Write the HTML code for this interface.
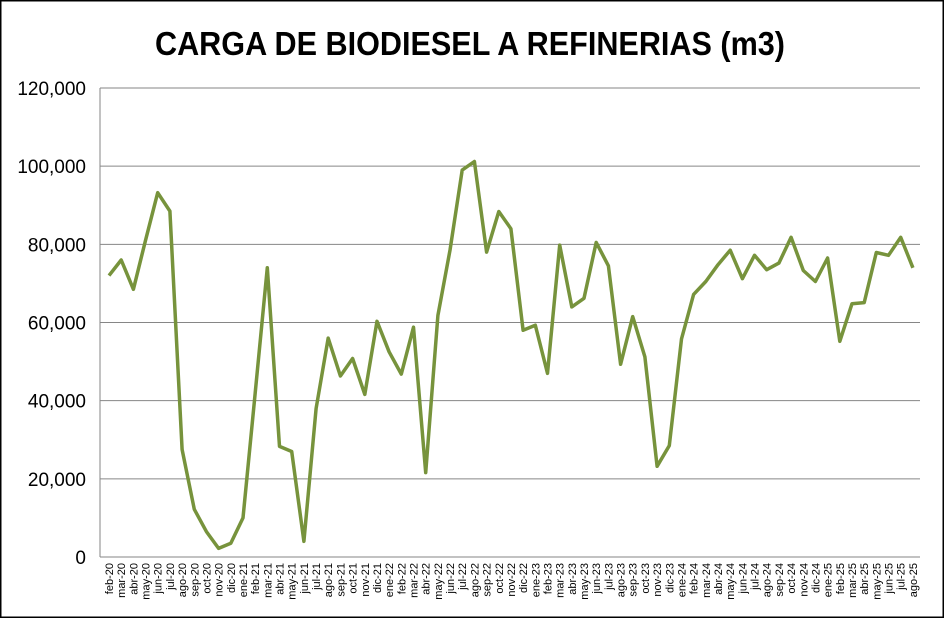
<!DOCTYPE html>
<html><head><meta charset="utf-8"><style>
html,body{margin:0;padding:0;background:#fff}
svg{display:block}
</style></head><body>
<svg id="c" width="944" height="618" xmlns="http://www.w3.org/2000/svg" font-family="Liberation Sans, sans-serif">
<rect x="0.75" y="0.75" width="942.5" height="616.5" fill="#fff" stroke="#000" stroke-width="1.5"/>
<text x="470" y="55" text-anchor="middle" font-size="33" font-weight="bold" fill="#000" textLength="630" lengthAdjust="spacingAndGlyphs">CARGA DE BIODIESEL A REFINERIAS (m3)</text>
<g id="g"></g>
</svg>
<script>
var vals=[72000,76000,68500,81000,93200,88500,27500,12200,6500,2200,3500,
10000,42000,74000,28300,27000,4000,38000,56000,46300,50800,41600,60300,
52500,46800,58800,21600,61800,78500,99000,101200,78000,88400,84000,58000,
59300,47000,79800,64000,66200,80500,74500,49300,61500,51200,23200,28500,
55800,67200,70500,74800,78500,71200,77200,73500,75200,81800,73300,70500,
76500,55200,64800,65100,77900,77200,81800,74000];
var mn=["ene","feb","mar","abr","may","jun","jul","ago","sep","oct","nov","dic"];
var L=100,R=920,T=88,B=557;
function y(v){return B-(v/120000)*(B-T);}
function x(i){return 109+i*12.18;}
var s="";
for(var k=0;k<=6;k++){var yy=y(k*20000);
 if(k>0)s+='<line x1="'+L+'" x2="'+R+'" y1="'+yy+'" y2="'+yy+'" stroke="#868686" stroke-width="1"/>';
 s+='<text x="86" y="'+(yy+7)+'" text-anchor="end" font-size="19">'+(k==0?"0":(k*20)+",000")+'</text>';}
s+='<line x1="'+L+'" x2="'+L+'" y1="'+T+'" y2="'+B+'" stroke="#868686"/>';
s+='<line x1="'+L+'" x2="'+R+'" y1="'+B+'" y2="'+B+'" stroke="#868686"/>';
var p=[];
for(var i=0;i<vals.length;i++){
 var m=(1+i)%12, yr=20+Math.floor((1+i)/12);
 var xx=x(i);
 s+='<text transform="translate('+(xx+4)+',563) rotate(-90)" text-anchor="end" font-size="11">'+mn[m]+'-'+yr+'</text>';
 p.push(xx.toFixed(1)+','+y(vals[i]).toFixed(1));}
s+='<polyline points="'+p.join(' ')+'" fill="none" stroke="#77933C" stroke-width="3.5" stroke-linejoin="round"/>';
document.getElementById('g').innerHTML=s;
</script>
</body></html>
